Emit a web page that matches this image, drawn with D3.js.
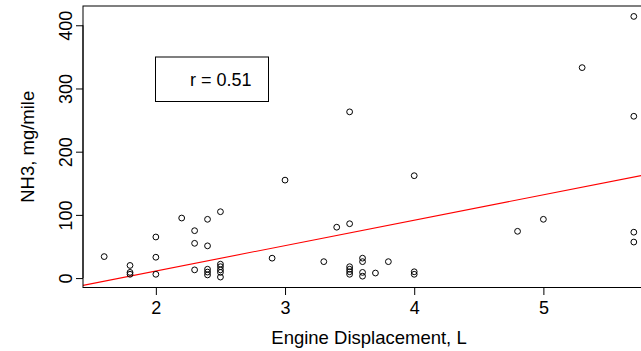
<!DOCTYPE html>
<html><head><meta charset="utf-8">
<script src="https://cdn.jsdelivr.net/npm/d3@7"></script>
<style>body{margin:0;background:#fff}svg{display:block}text{font-family:"Liberation Sans",Arial,sans-serif}</style>
</head><body>
<script>
const displacement = [1.6,1.8,1.8,1.8,2.0,2.0,2.0,2.2,2.3,2.3,2.3,2.4,2.4,2.4,2.4,2.4,2.5,2.5,2.5,2.5,2.5,2.5,2.9,3.0,3.3,3.4,3.5,3.5,3.5,3.5,3.5,3.5,3.6,3.6,3.6,3.6,3.7,3.8,4.0,4.0,4.0,4.8,5.0,5.3,5.7,5.7,5.7,5.7];
const nh3 = [34,20,9,6,65,33,6,95,75,55,13,93,51,14,9.5,5,105,22,18,13,9,1.6,31.5,155,26,80.5,263,86,18,14,10,6,31.5,26,9,3,8,26,162,10,6,74,93,333,414,256,72.6,57];
const xTicks = [2,3,4,5];
const yTicks = [0,100,200,300,400];
const lmIntercept = -69.2, lmSlope = 40.2;
const rLabel = "r = 0.51";
const xTitle = "Engine Displacement, L";
const yTitle = "NH3, mg/mile";

const W = 641, H = 351;
const L = 83, T = 6, R = 655, B = 287.5;
const svg = d3.select("body").append("svg").attr("width", W).attr("height", H);

const xr = d3.extent(displacement), yr = d3.extent(nh3);
const xp = (xr[1]-xr[0])*0.04, yp = (yr[1]-yr[0])*0.04;
const x = d3.scaleLinear().domain([xr[0]-xp, xr[1]+xp]).range([L, R]);
const y = d3.scaleLinear().domain([yr[0]-yp, yr[1]+yp]).range([B, T]);

svg.append("defs").append("clipPath").attr("id","clip")
  .append("rect").attr("x",L).attr("y",T).attr("width",R-L).attr("height",B-T);

// regression line
const [d0,d1] = x.domain();
svg.append("line").attr("clip-path","url(#clip)")
  .attr("x1", x(d0)).attr("y1", y(lmIntercept+lmSlope*d0))
  .attr("x2", x(d1)).attr("y2", y(lmIntercept+lmSlope*d1))
  .attr("stroke","#ff0000").attr("stroke-width",1.1);

// points
svg.append("g").selectAll("circle").data(displacement.map((d,i)=>[d,nh3[i]])).join("circle")
  .attr("cx", d=>x(d[0])).attr("cy", d=>y(d[1])).attr("r",2.9)
  .attr("fill","none").attr("stroke","#000").attr("stroke-width",1);

// box
svg.append("rect").attr("x",L).attr("y",T).attr("width",R-L).attr("height",B-T)
  .attr("fill","none").attr("stroke","#000").attr("stroke-width",1);

// x axis
const xa = d3.axisBottom(x).tickValues(xTicks).tickSize(7.5).tickPadding(6).tickFormat(d3.format("d"));
const gx = svg.append("g").attr("transform",`translate(0,${B})`).call(xa);
gx.select(".domain").attr("d", `M${x(xTicks[0])},0H${x(xTicks[xTicks.length-1])}`);
gx.selectAll("text").attr("font-size",18).attr("fill","#000").attr("font-family","Liberation Sans, Arial, sans-serif");

// y axis
const ya = d3.axisLeft(y).tickValues(yTicks).tickSize(7).tickPadding(0).tickFormat(d3.format("d"));
const gy = svg.append("g").attr("transform",`translate(${L},0)`).call(ya);
gy.select(".domain").attr("d", `M0,${y(yTicks[0])}V${y(yTicks[yTicks.length-1])}`);
gy.selectAll("text").attr("font-size",18).attr("fill","#000").attr("font-family","Liberation Sans, Arial, sans-serif")
  .attr("text-anchor","middle").attr("dy",null).attr("x",null)
  .attr("transform", d=>`translate(-17,0) rotate(-90)`).attr("dominant-baseline","central");

// titles
svg.append("text").attr("x",(L+R)/2).attr("y",344).attr("text-anchor","middle")
  .attr("font-size",18.5).text(xTitle);
svg.append("text").attr("transform",`translate(34,${(T+B)/2}) rotate(-90)`).attr("text-anchor","middle")
  .attr("font-size",18.5).text(yTitle);

// r label box
svg.append("rect").attr("x",155.5).attr("y",57).attr("width",113).attr("height",44.5)
  .attr("fill","#fff").attr("stroke","#000").attr("stroke-width",1);
svg.append("text").attr("x",190).attr("y",86).attr("font-size",18).text(rLabel);
</script>
</body></html>
